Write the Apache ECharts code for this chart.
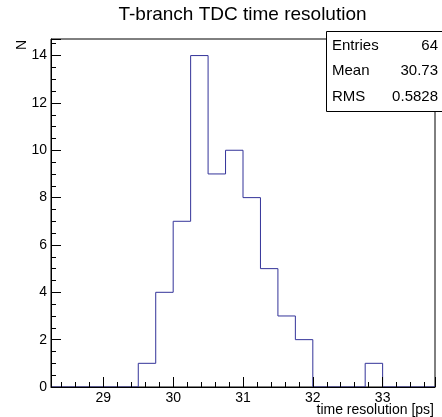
<!DOCTYPE html>
<html><head><meta charset="utf-8">
<script src="https://cdn.jsdelivr.net/npm/echarts@6/dist/echarts.min.js"></script>
<style>html,body{margin:0;padding:0;background:#fff}#c{width:442px;height:417px}</style>
</head><body><div id="c"></div>
<script>
// Histogram bins (lower edges, width 0.25) and counts
const binLowEdges = [28.25, 28.5, 28.75, 29.0, 29.25, 29.5, 29.75, 30.0, 30.25, 30.5, 30.75,
                     31.0, 31.25, 31.5, 31.75, 32.0, 32.25, 32.5, 32.75, 33.0, 33.25, 33.5];
const binCounts   = [0, 0, 0, 0, 0, 1, 4, 7, 14, 9, 10,
                     8, 5, 3, 2, 0, 0, 0, 1, 0, 0, 0];
const histUpperEdge = 33.75;
const xTickLabels = [29, 30, 31, 32, 33];
const yTickLabels = [0, 2, 4, 6, 8, 10, 12, 14];
const statsLabels = ['Entries', 'Mean', 'RMS'];
const statsValues = ['64', '30.73', '0.5828'];
const titleText = 'T-branch TDC time resolution';
const xTitle = 'time resolution [ps]';
const yTitle = 'N';

const FONT = '"Liberation Sans", Arial, Helvetica, sans-serif';
const stepData = binLowEdges.map((x, i) => [x, binCounts[i]]);
stepData.push([histUpperEdge, binCounts[binCounts.length - 1]]);

const chart = echarts.init(document.getElementById('c'), null, {renderer: 'canvas'});

const statsGraphics = [];
statsLabels.forEach((lab, i) => {
  const y = 45.7 + i * 25.5;
  statsGraphics.push({type: 'text', x: 332, y: y,
    style: {text: lab, font: '15px ' + FONT, fill: '#000', textAlign: 'left', textVerticalAlign: 'middle'}});
  statsGraphics.push({type: 'text', x: 438, y: y,
    style: {text: statsValues[i], font: '15px ' + FONT, fill: '#000', textAlign: 'right', textVerticalAlign: 'middle'}});
});

chart.setOption({
  animation: false,
  backgroundColor: '#fff',
  grid: {left: 51, top: 39, width: 384, height: 348, show: true, borderColor: '#000', borderWidth: 1, backgroundColor: 'transparent', containLabel: false},
  xAxis: {
    type: 'value', min: 28.25, max: 33.75, z: 5,
    axisLine: {show: true, onZero: false, lineStyle: {color: '#000', width: 1}},
    axisTick: {show: true, inside: true, length: 10, lineStyle: {color: '#000'}},
    minorTick: {show: true, splitNumber: 5, length: 5, lineStyle: {color: '#000'}},
    splitLine: {show: false},
    axisLabel: {margin: 4, color: '#000', fontSize: 14, fontFamily: FONT,
      formatter: v => xTickLabels.indexOf(Math.round(v * 1000) / 1000) >= 0 ? String(Math.round(v)) : ''}
  },
  yAxis: {
    type: 'value', min: 0, max: 14.7, interval: 2, z: 5,
    axisLine: {show: true, lineStyle: {color: '#000', width: 1}},
    axisTick: {show: true, inside: true, length: 10, lineStyle: {color: '#000'}},
    minorTick: {show: true, splitNumber: 4, length: 5, lineStyle: {color: '#000'}},
    splitLine: {show: false},
    axisLabel: {margin: 4, color: '#000', fontSize: 14, fontFamily: FONT,
      formatter: v => yTickLabels.indexOf(v) >= 0 ? String(v) : ''}
  },
  series: [{
    type: 'line', step: 'end', data: stepData, symbol: 'none', z: 2,
    lineStyle: {color: '#333399', width: 1}
  }],
  graphic: {elements: [
    {type: 'text', x: 242.5, y: 14.5, z: 100,
      style: {text: titleText, font: '19px ' + FONT, fill: '#000', textAlign: 'center', textVerticalAlign: 'middle'}},
    {type: 'text', x: 434, y: 410, z: 100,
      style: {text: xTitle, font: '14px ' + FONT, fill: '#000', textAlign: 'right', textVerticalAlign: 'middle'}},
    {type: 'text', x: 22, y: 40, rotation: Math.PI / 2, z: 100,
      style: {text: yTitle, font: '14px ' + FONT, fill: '#000', textAlign: 'right', textVerticalAlign: 'middle'}},
    {type: 'rect', z: 100, shape: {x: 326.5, y: 31.5, width: 116, height: 80},
      style: {fill: '#fff', stroke: '#000', lineWidth: 1}},
    ...statsGraphics.map(g => Object.assign({z: 101}, g))
  ]}
});
</script>
</body></html>
